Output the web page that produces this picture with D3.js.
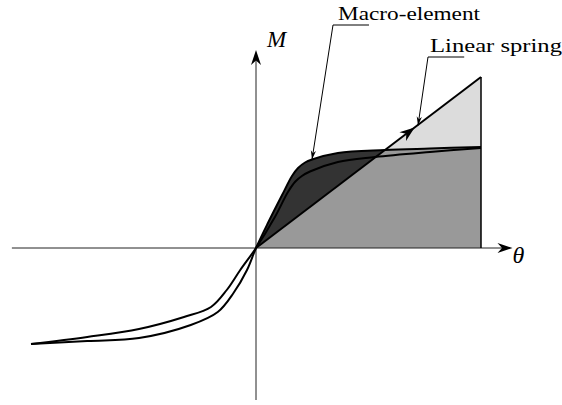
<!DOCTYPE html>
<html>
<head>
<meta charset="utf-8">
<script src="https://cdn.jsdelivr.net/npm/d3@7"></script>
<style>
  html, body { margin: 0; padding: 0; background: #fff; }
  text { font-family: "Liberation Serif", serif; }
</style>
</head>
<body>
<svg id="chart" width="562" height="405"></svg>
<script>
// moment-rotation curves, theta and M in normalised units
const macroStiff = [
  [-1.0, -0.96], [-0.75, -0.93], [-0.52, -0.90], [-0.29, -0.77], [-0.17, -0.64],
  [-0.10, -0.45], [-0.04, -0.22], [0, 0], [0.053, 0.25], [0.116, 0.53],
  [0.16, 0.72], [0.187, 0.80], [0.218, 0.855], [0.249, 0.885], [0.364, 0.95],
  [0.573, 0.98], [0.773, 0.995], [1.0, 1.01]
];
const macroSoft = [
  [-1.0, -0.96], [-0.75, -0.89], [-0.52, -0.81], [-0.32, -0.69], [-0.20, -0.59],
  [-0.13, -0.42], [-0.07, -0.22], [0, 0], [0.084, 0.31], [0.142, 0.56],
  [0.175, 0.665], [0.204, 0.72], [0.24, 0.765], [0.364, 0.86], [0.529, 0.91],
  [0.773, 0.96], [1.0, 1.0]
];
const linearSpring = [[0, 0], [1, 1.71]];
const thetaExtent = [-1.085, 1.14];
const mExtent = [-1.52, 1.98];
const axisLabels = ["θ", "M"];
const labels = ["Macro-element", "Linear spring"];
const labelTargets = [[0.249, 0.885], [0.72, 1.225]];

const svg = d3.select("#chart");
const x = d3.scaleLinear().domain([-1, 1]).range([31, 481]);
const y = d3.scaleLinear().domain([0, 1]).range([248, 148]);

const smooth = d3.curveCatmullRom.alpha(0.5);
const line = d3.line().x(d => x(d[0])).y(d => y(d[1])).curve(smooth);
const stiffPos = macroStiff.filter(d => d[0] >= 0);
const areaUnder = d3.area().x(d => x(d[0])).y0(y(0)).y1(d => y(d[1])).curve(smooth);
const tri = [[0, 0], [1, linearSpring[1][1]], [1, 0]];
const triPath = "M" + tri.map(d => [x(d[0]), y(d[1])].join(",")).join("L") + "Z";

// dark: above spring, under macro curve
svg.append("path").attr("d", areaUnder(stiffPos)).attr("fill", "#333");
// light: under spring line
svg.append("path").attr("d", triPath).attr("fill", "#dcdcdc");
// mid: under both
svg.append("clipPath").attr("id", "tri").append("path").attr("d", triPath);
svg.append("path").attr("d", areaUnder(stiffPos)).attr("fill", "#999")
  .attr("clip-path", "url(#tri)");

// stealth-ish arrow head, tip at (px,py) pointing along angle a
function dart(px, py, a, len, hw) {
  const p = d3.path();
  p.moveTo(0, 0); p.lineTo(-len, -hw); p.lineTo(-len * 0.7, 0); p.lineTo(-len, hw); p.closePath();
  svg.append("path").attr("d", p.toString()).attr("fill", "#000")
    .attr("transform", `translate(${px},${py}) rotate(${a * 180 / Math.PI})`);
}

// axes
svg.append("line").attr("x1", x(thetaExtent[0])).attr("x2", x(thetaExtent[1]) - 6)
  .attr("y1", y(0)).attr("y2", y(0)).attr("stroke", "#222").attr("stroke-width", 1);
dart(x(thetaExtent[1]), y(0), 0, 15, 5);
svg.append("line").attr("x1", x(0)).attr("x2", x(0))
  .attr("y1", y(mExtent[0])).attr("y2", y(mExtent[1]) + 6).attr("stroke", "#222").attr("stroke-width", 1);
dart(x(0), y(mExtent[1]), -Math.PI / 2, 15, 5);

// right edge of the shaded area
svg.append("line").attr("x1", x(1)).attr("x2", x(1)).attr("y1", y(0)).attr("y2", y(linearSpring[1][1]))
  .attr("stroke", "#000").attr("stroke-width", 1.5);

// curves
[macroStiff, macroSoft].forEach(c => {
  svg.append("path").attr("d", line(c)).attr("fill", "none")
    .attr("stroke", "#000").attr("stroke-width", 2);
});
svg.append("path").attr("d", d3.line().x(d => x(d[0])).y(d => y(d[1]))(linearSpring))
  .attr("fill", "none").attr("stroke", "#000").attr("stroke-width", 2);
const sa = Math.atan2(y(linearSpring[1][1]) - y(0), x(1) - x(0));
dart(x(0.705), y(0.705 * linearSpring[1][1]), sa, 15, 5.5);

// axis labels
svg.append("text").attr("x", x(thetaExtent[1])).attr("y", y(0) + 15)
  .attr("font-size", 24).attr("font-style", "italic").text(axisLabels[0]);
svg.append("text").attr("x", x(0) + 11).attr("y", y(mExtent[1]) - 3)
  .attr("font-size", 23).attr("font-style", "italic").text(axisLabels[1]);

// annotations with underlined first letters and leader arrows
const fs = 19;
const labelPos = [[338, 20, "Ma", 142, 333], [430, 52, "Lin", 132, 428]];
labels.forEach((s, i) => {
  const [lx, ly, pre, tw, ux] = labelPos[i];
  svg.append("text").attr("x", lx).attr("y", ly).attr("font-size", fs)
    .attr("textLength", tw).attr("lengthAdjust", "spacingAndGlyphs").text(s);
  // width of the underlined prefix, scaled like the stretched text
  const tmp = svg.append("text").attr("font-size", fs).text(pre);
  const tmpAll = svg.append("text").attr("font-size", fs).text(s);
  const w = tmp.node().getComputedTextLength() * tw / tmpAll.node().getComputedTextLength();
  tmp.remove(); tmpAll.remove();
  svg.append("line").attr("x1", ux).attr("x2", lx + w).attr("y1", ly + 5).attr("y2", ly + 5)
    .attr("stroke", "#000").attr("stroke-width", 1);
  const tx = x(labelTargets[i][0]), ty = y(labelTargets[i][1]);
  svg.append("line").attr("x1", ux).attr("y1", ly + 5).attr("x2", tx).attr("y2", ty)
    .attr("stroke", "#000").attr("stroke-width", 1);
  dart(tx, ty, Math.atan2(ty - ly - 5, tx - ux), 9, 2.6);
});
</script>
</body>
</html>
